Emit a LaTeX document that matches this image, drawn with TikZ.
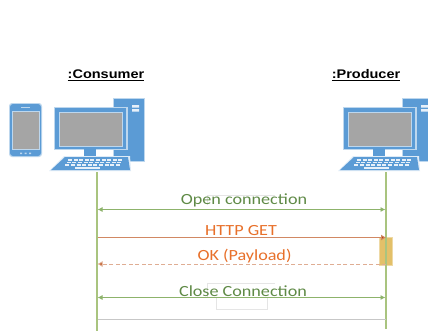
\documentclass[tikz,border=0pt]{standalone}
\usepackage{fontspec}
\setmainfont{Carlito}
\newfontfamily\titlefont{Liberation Sans}
\usetikzlibrary{arrows.meta}
\definecolor{iconblue}{HTML}{5B9BD5}
\definecolor{iconpale}{HTML}{BDD7EE}
\definecolor{screengrey}{HTML}{A5A5A5}
\definecolor{lifegreen}{HTML}{A9C47F}
\definecolor{arrowgreen}{HTML}{8DB36B}
\definecolor{labelgreen}{HTML}{5F8A46}
\definecolor{labelorange}{HTML}{E8702A}
\definecolor{darkorange}{HTML}{B8480F}
\definecolor{actfill}{HTML}{E3C069}
\tikzset{
  x=1pt,y=-1pt,
  titlelabel/.style={font=\titlefont\bfseries\fontsize{12.5}{14}\selectfont,text=black,inner sep=0pt,xscale=1.16,transform shape},
  msglabel/.style={font=\fontsize{15.5}{17}\selectfont,inner sep=0pt,xscale=1.17,transform shape},
  lifeline/.style={draw=lifegreen,line width=1.3pt},
  greenmsg/.style={draw=arrowgreen,line width=0.9pt,{Latex[length=5pt,width=5pt,fill=arrowgreen]}-{Latex[length=5pt,width=5pt,fill=arrowgreen]}},
  reqmsg/.style={draw=darkorange!65!white,line width=0.8pt,-{Latex[length=5pt,width=6pt,fill=darkorange]}},
  respmsg/.style={draw=darkorange!45!white,line width=0.8pt,dash pattern=on 4pt off 2.5pt,-{Latex[length=5pt,width=6pt,fill=darkorange]}},
  ghost/.style={draw=black!10,line width=0.5pt},
  computer/.pic={
    % tower
    \fill[iconpale] (16,-1) rectangle (48,63);
    \fill[iconblue] (17,0) rectangle (47,62);
    \fill[white!85!iconblue] (35,6) rectangle (42,8.5) (35,10) rectangle (42,12.5);
    % monitor
    \fill[iconpale] (-43,8) rectangle (31,51);
    \fill[iconblue] (-42,9) rectangle (29,50);
    \fill[iconpale] (-38,12.5) rectangle (26,47.5);
    \fill[screengrey] (-37,13.5) rectangle (25,46.5);
    % stand
    \fill[iconblue] (-13,50) rectangle (-1,58);
    % keyboard
    \fill[white!80!iconblue] (-33,57) -- (33,57) -- (34,72) -- (-48,72) -- cycle;
    \fill[iconblue] (-32,58) -- (31,58) -- (33,71) -- (-46,71) -- cycle;
    \foreach \r in {0,1,2}
      \foreach \c in {0,...,9}
        \fill[white!85!iconblue] ({-29+\c*5.6-\r*1.3},{60+\r*2.7}) rectangle ++(4,1.7);
    \fill[white!85!iconblue] (-22,68.2) rectangle (3,70);
  }
}
\begin{document}
\begin{tikzpicture}
\useasboundingbox (0,0) rectangle (428,333);
\fill[white] (0,0) rectangle (428,333);

% phone
\fill[iconpale,rounded corners=3pt] (9,103) rectangle (42,157);
\fill[iconblue,rounded corners=3pt] (10,104) rectangle (41,156);
\fill[iconpale] (11.5,110.5) rectangle (39.5,150);
\fill[screengrey] (12.5,111.5) rectangle (38.5,149);
\fill[iconpale] (21,106.8) rectangle (30,108);
\fill[iconpale] (20,152.5) rectangle ++(2,1.5) (24.5,152.5) rectangle ++(2,1.5) (29,152.5) rectangle ++(2,1.5);

% computers
\pic at (97,99) {computer};
\pic at (386,99) {computer};

% titles
\node[titlelabel] (consumer) at (106,75.5) {\underline{:Consumer}};
\node[titlelabel] (producer) at (366,75.5) {\underline{:Producer}};

% lifeline ends
\coordinate (ctop) at (97,172);
\coordinate (cbot) at (97,331);
\coordinate (ptop) at (386,172);
\coordinate (pbot) at (386,329);
\coordinate (cOpen) at (97.5,209.5);
\coordinate (pOpen) at (385.5,209.5);
\coordinate (cGet) at (97.5,237.5);
\coordinate (pGet) at (386,237.5);
\coordinate (pOk) at (386,264);
\coordinate (cOk) at (97.5,264);
\coordinate (cClose) at (97.5,297.5);
\coordinate (pClose) at (385.5,297.5);
\coordinate (cEnd) at (97.5,319);
\coordinate (pEnd) at (385.5,319);

% faint frames behind the labels
\draw[ghost] (207,205) -- (207,195) -- (275,195);
\draw[ghost] (207,297) -- (207,283.5) -- (275,283.5);
\draw[ghost] (216,298) -- (216,309) -- (267,309) -- (267,298);

% activation
\node[draw=actfill!60!white,fill=actfill,line width=0.5pt,minimum width=13pt,minimum height=28pt,inner sep=0pt] (act) at (386,251) {};

% lifelines
\draw[lifeline] (ctop) -- (cbot);
\draw[lifeline] (ptop) -- (pbot);

% messages
\draw[greenmsg] (cOpen) -- (pOpen);
\draw[reqmsg] (cGet) -- (pGet);
\draw[respmsg] (pOk) -- (cOk);
\draw[greenmsg] (cClose) -- (pClose);
\draw[draw=black!22,line width=0.9pt] (cEnd) -- (pEnd);

% labels
\node[msglabel,text=labelgreen] (lopen) at (244,200) {Open connection};
\node[msglabel,text=labelorange] (lget) at (241,230.5) {HTTP GET};
\node[msglabel,text=labelorange] (lok) at (244.5,256) {OK (Payload)};
\node[msglabel,text=labelgreen] (lclose) at (243,291) {Close Connection};
\end{tikzpicture}
\end{document}
